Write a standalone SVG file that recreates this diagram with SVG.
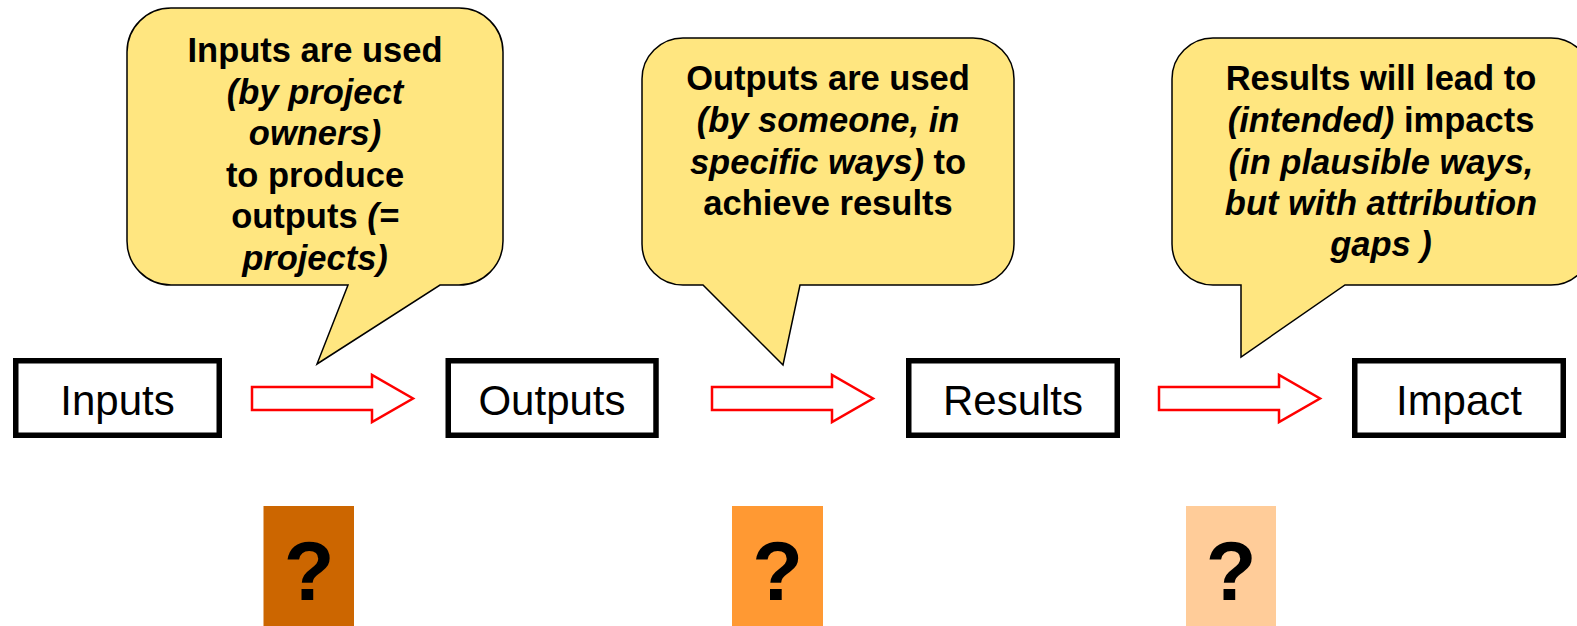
<svg xmlns="http://www.w3.org/2000/svg" width="1577" height="626" viewBox="0 0 1577 626">
<style>
.callout{fill:#FFE680;stroke:#000;stroke-width:1.5;stroke-linejoin:miter}
.ct{font-family:"Liberation Sans",Arial,sans-serif;font-weight:bold;font-size:34.5px;fill:#000;text-anchor:middle}
.it{font-style:italic}
.node{fill:#fff;stroke:#000;stroke-width:5.5}
.nt{font-family:"Liberation Sans",Arial,sans-serif;font-size:42px;fill:#000;text-anchor:middle}
.arrow{fill:#fff;stroke:#FF0000;stroke-width:2.5;stroke-linejoin:miter}
.q{font-family:"Liberation Sans",Arial,sans-serif;font-weight:bold;font-size:83px;fill:#000;text-anchor:middle}
</style>
<rect width="1577" height="626" fill="#fff"/>

<g id="callout1">
<path class="callout" d="M171,8 H459 A44,44 0 0 1 503,52 V241 A44,44 0 0 1 459,285 H440 L317,364 L348,285 H171 A44,44 0 0 1 127,241 V52 A44,44 0 0 1 171,8 Z"/>
<text class="ct" x="315" y="62">Inputs are used</text>
<text class="ct it" x="315" y="103.5">(by project</text>
<text class="ct it" x="315" y="145">owners)</text>
<text class="ct" x="315" y="186.5">to produce</text>
<text class="ct" x="315" y="228">outputs <tspan class="it">(=</tspan></text>
<text class="ct it" x="315" y="269.5">projects)</text>
</g>

<g id="callout2">
<path class="callout" d="M683,38 H973 A41,41 0 0 1 1014,79 V244 A41,41 0 0 1 973,285 H800 L783,365 L703,285 H683 A41,41 0 0 1 642,244 V79 A41,41 0 0 1 683,38 Z"/>
<text class="ct" x="828" y="90">Outputs are used</text>
<text class="ct it" x="828" y="132">(by someone, in</text>
<text class="ct" x="828" y="174"><tspan class="it">specific ways)</tspan> to</text>
<text class="ct" x="828" y="215">achieve results</text>
</g>

<g id="callout3">
<path class="callout" d="M1213,38 H1551 A41,41 0 0 1 1592,79 V244 A41,41 0 0 1 1551,285 H1345 L1241,357 L1241,285 H1213 A41,41 0 0 1 1172,244 V79 A41,41 0 0 1 1213,38 Z"/>
<text class="ct" x="1381" y="90">Results will lead to</text>
<text class="ct" x="1381" y="132"><tspan class="it">(intended)</tspan> impacts</text>
<text class="ct it" x="1381" y="174">(in plausible ways,</text>
<text class="ct it" x="1381" y="215">but with attribution</text>
<text class="ct it" x="1381" y="256">gaps )</text>
</g>

<g id="node-inputs">
<rect class="node" x="15.75" y="360.75" width="203.5" height="74.5"/>
<text class="nt" x="117.5" y="415">Inputs</text>
</g>
<g id="node-outputs">
<rect class="node" x="448.25" y="360.75" width="207.75" height="74.5"/>
<text class="nt" x="552" y="415">Outputs</text>
</g>
<g id="node-results">
<rect class="node" x="908.75" y="360.75" width="208.5" height="74.5"/>
<text class="nt" x="1013" y="415">Results</text>
</g>
<g id="node-impact">
<rect class="node" x="1354.75" y="360.75" width="208.5" height="74.5"/>
<text class="nt" x="1459" y="415">Impact</text>
</g>

<g id="connectors">
<path class="arrow" d="M252,387 H372 V375 L413,398.5 L372,422 V410 H252 Z"/>
<path class="arrow" d="M712,387 H832 V375 L873,398.5 L832,422 V410 H712 Z"/>
<path class="arrow" d="M1159,387 H1279 V375 L1320,398.5 L1279,422 V410 H1159 Z"/>
</g>

<g id="q1">
<rect x="263.5" y="506" width="90.5" height="120" fill="#CC6600"/>
<text class="q" x="309" y="600">?</text>
</g>
<g id="q2">
<rect x="732" y="506" width="91" height="120" fill="#FF9933"/>
<text class="q" x="777.5" y="600">?</text>
</g>
<g id="q3">
<rect x="1186" y="506" width="90" height="120" fill="#FFCC99"/>
<text class="q" x="1231" y="600">?</text>
</g>
</svg>
